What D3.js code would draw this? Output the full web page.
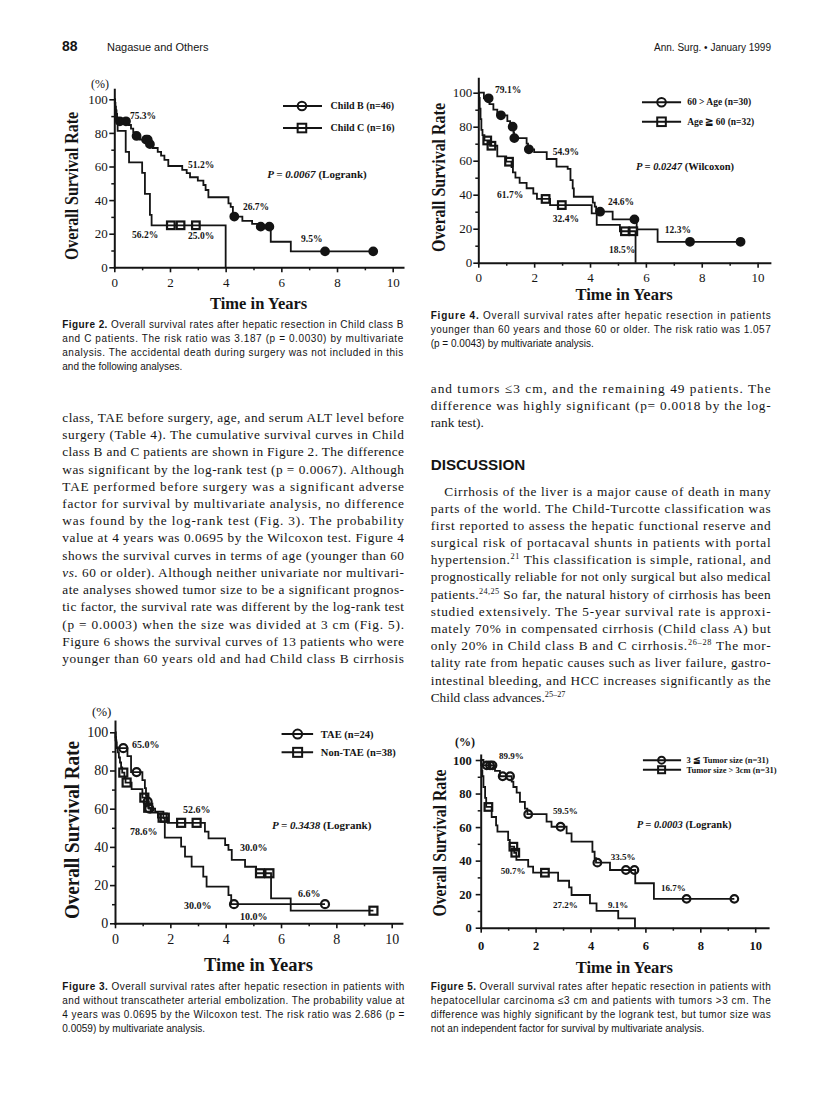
<!DOCTYPE html>
<html>
<head>
<meta charset="utf-8">
<script src="https://cdn.jsdelivr.net/npm/d3@7/dist/d3.min.js"></script>
<style>
html,body{margin:0;padding:0;background:#ffffff;}
svg{display:block;}
svg text{white-space:pre;}
</style>
</head>
<body>
<svg id="page" width="816" height="1115" viewBox="0 0 816 1115"></svg>
<script>
// ===================== DATA =====================
const majorYears = [0, 2, 4, 6, 8, 10];
const minorYears = [1, 3, 5, 7, 9];
const majorPct = [0, 20, 40, 60, 80, 100];
const minorPct = [10, 30, 50, 70, 90];

// ---- Figure 2: Child B vs Child C ----
const fig2ChildB = [[0,100],[0.02,97.8],[0.04,95.6],[0.06,93.4],[0.08,91.3],[0.1,89.1],[0.13,86.9],[0.5,84.7],[0.6,82.5],[0.68,80.3],[0.75,78.2],[0.92,76.0],[1.25,73.3],[1.38,71.0],[1.56,68.7],[1.68,66.5],[1.8,64.0],[1.94,60.3],[2.44,58.0],[2.6,56.0],[2.72,53.6],[3.0,51.6],[3.2,49.0],[3.28,46.0],[3.38,41.7],[4.1,38.0],[4.18,36.0],[4.26,30.2],[4.6,27.6],[4.95,25.8],[5.2,24.2],[5.62,15.2],[6.34,9.5],[9.3,9.5]];
const fig2ChildBCensor = [0.2,0.42,0.8,1.14,1.2,1.28,4.31,5.26,5.57,7.57,9.3];
const fig2ChildC = [[0,100],[0.03,93.75],[0.06,87.5],[0.12,81.25],[0.41,68.75],[0.53,62.5],[1.0,56.25],[1.1,43.75],[1.28,31.25],[1.34,25],[4.0,0]];
const fig2ChildCCensor = [2.03,2.38,2.93];
const fig2Labels = [[0.56,88.5,"75.3%"],[2.65,59.4,"51.2%"],[4.62,34,"26.7%"],[0.64,17.7,"56.2%"],[2.65,16.7,"25.0%"],[6.71,14.8,"9.5%"]];
const fig2Legend = ["Child B (n=46)", "Child C (n=16)"];
const fig2P = ["P = 0.0067", " (Logrank)"];

// ---- Figure 4: age ----
const fig4Young = [[0,100],[0.2,96.7],[0.4,93.3],[0.54,90],[0.68,86.7],[1.04,83.3],[1.14,80],[1.26,76.7],[1.28,73.3],[1.73,70],[1.78,66.7],[2.0,65],[2.45,61],[2.8,56.5],[3.2,55.2],[3.3,48.6],[3.38,43.7],[3.42,38.8],[4.1,35.3],[4.17,33],[4.22,30],[4.81,25.5],[5.67,19.6],[6.42,12.3],[9.39,12.3]];
const fig4YoungCensor = [0.37,0.81,1.23,1.29,1.81,4.36,5.59,7.58,9.39];
const fig4Old = [[0,100],[0.03,96.9],[0.05,90.6],[0.08,84.4],[0.11,78.1],[0.15,75],[0.22,71.9],[0.42,68.8],[0.68,62.5],[1.0,59.4],[1.19,56.3],[1.24,53.1],[1.33,50],[1.48,46.9],[1.73,43.8],[1.97,40.6],[2.1,37.5],[2.57,33.9],[4.06,29],[4.24,22.2],[5.07,18.5],[5.63,0]];
const fig4OldCensor = [0.32,0.47,1.1,2.41,2.99,5.25,5.55];
const fig4Labels = [[0.6,100.1,"79.1%"],[2.67,63.2,"54.9%"],[0.67,37.8,"61.7%"],[2.67,24.2,"32.4%"],[4.64,33.8,"24.6%"],[6.68,17.2,"12.3%"],[4.68,6,"18.5%"]];
const fig4Legend = ["60 > Age (n=30)", "Age \u2267 60 (n=32)"];
const fig4P = ["P = 0.0247", " (Wilcoxon)"];

// ---- Figure 3: TAE ----
const fig3TAE = [[0,100],[0.02,95.8],[0.05,91.7],[0.45,87.5],[0.58,79.2],[0.99,75],[1.08,70.8],[1.12,66.7],[1.16,63.7],[1.22,60],[1.45,58.5],[1.75,55],[1.8,44.9],[2.39,40.1],[2.53,34.9],[2.77,29.7],[3.19,24.4],[3.31,19.2],[4.1,14.8],[4.2,10],[7.59,10]];
const fig3TAECensor = [0.3,0.78,1.18,1.24,4.3,7.59];
const fig3NonTAE = [[0,100],[0.02,97.4],[0.04,94.7],[0.06,92.1],[0.1,89.5],[0.14,86.8],[0.18,84.2],[0.22,81.6],[0.26,78.9],[0.34,76.3],[0.38,73.7],[0.6,70.3],[0.99,65.8],[1.14,63],[1.2,60.5],[1.29,57.9],[1.55,55.3],[1.9,52.6],[3.25,48],[3.38,44.5],[3.98,41],[4.1,38.4],[4.22,33.2],[4.7,29.6],[5.1,26.2],[5.64,13.1],[6.35,6.6],[9.34,6.6]];
const fig3NonTAECensor = [0.3,0.42,1.06,1.2,1.72,1.8,2.39,2.95,5.24,5.58,9.34];
const fig3Labels = [[0.61,92,"65.0%"],[2.46,57.5,"52.6%"],[0.54,46,"78.6%"],[4.52,37.7,"30.0%"],[2.49,7.7,"30.0%"],[4.52,1.6,"10.0%"],[6.61,14,"6.6%"]];
const fig3Legend = ["TAE (n=24)", "Non-TAE (n=38)"];
const fig3P = ["P = 0.3438", " (Logrank)"];

// ---- Figure 5: tumor size ----
const fig5Small = [[0,100],[0.1,96.8],[0.52,93.5],[0.7,90.3],[1.13,87.1],[1.19,83.9],[1.31,80.6],[1.43,75],[1.61,71],[1.7,67.7],[2.4,63.2],[2.58,60.2],[3.13,56.3],[3.31,51.3],[4.07,45.3],[4.15,41.4],[4.2,38.8],[4.71,34.4],[5.63,26.5],[6.31,17.2],[9.24,17.2]];
const fig5SmallCensor = [0.22,0.34,0.43,0.8,1.07,1.73,2.91,4.25,5.29,5.6,7.5,9.24];
const fig5Large = [[0,100],[0.02,96.8],[0.04,93.5],[0.06,90.3],[0.1,83.9],[0.16,77.4],[0.2,72],[0.4,66],[0.56,61],[0.61,57.3],[1.0,52.3],[1.06,48.3],[1.22,44.7],[1.3,40.4],[1.73,36.4],[1.91,32.8],[2.82,28],[3.22,24],[3.31,19.5],[3.98,14.5],[4.22,10],[5.01,5.6],[5.62,0]];
const fig5LargeCensor = [0.28,1.19,1.26,2.34];
const fig5Labels = [[0.67,100.5,"89.9%"],[2.63,67.7,"59.5%"],[0.73,32.3,"50.7%"],[2.63,11.9,"27.2%"],[4.74,40.3,"33.5%"],[6.57,22,"16.7%"],[4.64,11.9,"9.1%"]];
const fig5Legend = ["3 \u2266 Tumor size (n=31)", "Tumor size > 3cm (n=31)"];
const fig5P = ["P = 0.0003", " (Logrank)"];

// ---- Page text ----
const headerTexts = ["88", "Nagasue and Others", "Ann. Surg. \u2022 January 1999"];
const cap2 = [[["Figure 2.","b"]," Overall survival rates after hepatic resection in Child class B"],["and C patients. The risk ratio was 3.187 (p = 0.0030) by multivariate"],["analysis. The accidental death during surgery was not included in this"],["and the following analyses."]];
const cap4 = [[["Figure 4.","b"]," Overall survival rates after hepatic resection in patients"],["younger than 60 years and those 60 or older. The risk ratio was 1.057"],["(p = 0.0043) by multivariate analysis."]];
const cap3 = [[["Figure 3.","b"]," Overall survival rates after hepatic resection in patients with"],["and without transcatheter arterial embolization. The probability value at"],["4 years was 0.0695 by the Wilcoxon test. The risk ratio was 2.686 (p ="],["0.0059) by multivariate analysis."]];
const cap5 = [[["Figure 5.","b"]," Overall survival rates after hepatic resection in patients with"],["hepatocellular carcinoma \u22643 cm and patients with tumors >3 cm. The"],["difference was highly significant by the logrank test, but tumor size was"],["not an independent factor for survival by multivariate analysis."]];
const bodyLeft = [
 ["class, TAE before surgery, age, and serum ALT level before"],
 ["surgery (Table 4). The cumulative survival curves in Child"],
 ["class B and C patients are shown in Figure 2. The difference"],
 ["was significant by the log-rank test (p = 0.0067). Although"],
 ["TAE performed before surgery was a significant adverse"],
 ["factor for survival by multivariate analysis, no difference"],
 ["was found by the log-rank test (Fig. 3). The probability"],
 ["value at 4 years was 0.0695 by the Wilcoxon test. Figure 4"],
 ["shows the survival curves in terms of age (younger than 60"],
 [["vs.","i"]," 60 or older). Although neither univariate nor multivari-"],
 ["ate analyses showed tumor size to be a significant prognos-"],
 ["tic factor, the survival rate was different by the log-rank test"],
 ["(p = 0.0003) when the size was divided at 3 cm (Fig. 5)."],
 ["Figure 6 shows the survival curves of 13 patients who were"],
 ["younger than 60 years old and had Child class B cirrhosis"]
];
const bodyRightTop = [
 ["and tumors \u22643 cm, and the remaining 49 patients. The"],
 ["difference was highly significant (p= 0.0018 by the log-"],
 ["rank test)."]
];
const headingText = "DISCUSSION";
const bodyRightMain = [
 ["Cirrhosis of the liver is a major cause of death in many"],
 ["parts of the world. The Child-Turcotte classification was"],
 ["first reported to assess the hepatic functional reserve and"],
 ["surgical risk of portacaval shunts in patients with portal"],
 ["hypertension.",["21","s"]," This classification is simple, rational, and"],
 ["prognostically reliable for not only surgical but also medical"],
 ["patients.",["24,25","s"]," So far, the natural history of cirrhosis has been"],
 ["studied extensively. The 5-year survival rate is approxi-"],
 ["mately 70% in compensated cirrhosis (Child class A) but"],
 ["only 20% in Child class B and C cirrhosis.",["26\u201328","s"]," The mor-"],
 ["tality rate from hepatic causes such as liver failure, gastro-"],
 ["intestinal bleeding, and HCC increases significantly as the"],
 ["Child class advances.",["25\u201327","s"]]
];

// ===================== RENDER =====================
const svg = d3.select('#page');
const SERIF = "'Liberation Serif','Times New Roman',Times,serif";
const SANS = "'Liberation Sans',Arial,Helvetica,sans-serif";
const INK = '#141414';

svg.append('rect').attr('width', 816).attr('height', 1115).attr('fill', '#fff');

function stepAt(series, t) {
  let v = series[0][1];
  for (const d of series) { if (d[0] <= t) v = d[1]; }
  return v;
}

function drawMarker(g, type, cx, cy, r, fill, sw) {
  if (type === 'circle') {
    g.append('circle').attr('cx', cx).attr('cy', cy).attr('r', r)
      .attr('fill', fill).attr('stroke', INK).attr('stroke-width', sw);
  } else {
    g.append('rect').attr('x', cx - r).attr('y', cy - r).attr('width', 2 * r).attr('height', 2 * r)
      .attr('fill', fill).attr('stroke', INK).attr('stroke-width', sw);
  }
}

function drawKM(c) {
  const g = svg.append('g');
  const x = d3.scaleLinear().domain([0, c.xMax]).range([c.left, c.left + c.xMax * c.xPer]);
  const y = d3.scaleLinear().domain([0, c.yMax]).range([c.bottom, c.bottom - c.yMax * c.yPer]);
  const fw = c.tickBold ? 'bold' : 'normal';

  g.append('g').attr('transform', `translate(0,${c.bottom})`)
    .call(d3.axisBottom(x).tickValues(minorYears).tickSize(3).tickFormat(''))
    .call(a => a.select('.domain').remove())
    .call(a => a.selectAll('line').attr('stroke', INK).attr('stroke-width', 1.5));
  g.append('g').attr('transform', `translate(${c.left},0)`)
    .call(d3.axisLeft(y).tickValues(minorPct).tickSize(3).tickFormat(''))
    .call(a => a.select('.domain').remove())
    .call(a => a.selectAll('line').attr('stroke', INK).attr('stroke-width', 1.5));

  const ax = g.append('g').attr('transform', `translate(0,${c.bottom})`)
    .call(d3.axisBottom(x).tickValues(majorYears).tickSize(5).tickSizeOuter(0).tickPadding(c.padX));
  const ay = g.append('g').attr('transform', `translate(${c.left},0)`)
    .call(d3.axisLeft(y).tickValues(majorPct).tickSize(5).tickSizeOuter(0).tickPadding(c.padY));
  [ax, ay].forEach(a => {
    a.attr('font-family', SERIF).attr('font-size', c.tickFont).attr('font-weight', fw);
    a.select('.domain').attr('stroke', INK).attr('stroke-width', 2).attr('stroke-linecap', 'square');
    a.selectAll('.tick line').attr('stroke', INK).attr('stroke-width', 1.6);
    a.selectAll('.tick text').attr('fill', INK);
  });

  const line = d3.line().x(d => x(d[0])).y(d => y(d[1])).curve(d3.curveStepAfter);
  c.series.forEach(s => {
    g.append('path').datum(s.data).attr('d', line)
      .attr('fill', 'none').attr('stroke', INK).attr('stroke-width', 1.8);
  });
  c.series.forEach(s => {
    s.censor.forEach(t => drawMarker(g, s.mark, x(t), y(stepAt(s.data, t)), c.markR, s.fill, c.markSW));
  });

  c.labels.forEach(l => {
    g.append('text').attr('x', x(l[0])).attr('y', y(l[1]))
      .attr('font-family', SERIF).attr('font-weight', 'bold').attr('font-size', c.labelFont)
      .attr('fill', INK).text(l[2]);
  });

  const L = c.legend;
  L.names.forEach((name, i) => {
    const ry = y(L.rows[i]);
    g.append('line').attr('x1', x(L.x1)).attr('x2', x(L.x2)).attr('y1', ry).attr('y2', ry)
      .attr('stroke', INK).attr('stroke-width', 2);
    drawMarker(g, c.series[i].mark, x(L.xm), ry, L.r, 'none', 2);
    g.append('text').attr('x', x(L.xt)).attr('y', ry + L.size * 0.34)
      .attr('font-family', SERIF).attr('font-weight', 'bold').attr('font-size', L.size)
      .attr('fill', INK).text(name);
  });

  const pt = g.append('text').attr('x', x(c.p.t)).attr('y', y(c.p.s)).attr('text-anchor', 'middle')
    .attr('font-family', SERIF).attr('font-weight', 'bold').attr('font-size', c.p.size).attr('fill', INK);
  pt.append('tspan').attr('font-style', 'italic').text(c.p.text[0]);
  pt.append('tspan').text(c.p.text[1]);

  if (c.pct) {
    g.append('text').attr('x', x(c.pct.t)).attr('y', y(c.pct.s)).attr('text-anchor', 'middle')
      .attr('font-family', SERIF).attr('font-size', c.pct.size).attr('font-weight', c.pct.bold ? 'bold' : 'normal')
      .attr('fill', INK).text('(%)');
  }

  g.append('text')
    .attr('transform', `translate(${c.left - c.yTitle.off},${y(c.yTitle.at)}) rotate(-90)`)
    .attr('text-anchor', 'middle').attr('font-family', SERIF).attr('font-weight', 'bold')
    .attr('font-size', c.yTitle.size).attr('textLength', c.yTitle.len).attr('lengthAdjust', 'spacingAndGlyphs')
    .attr('fill', INK).text('Overall Survival Rate');
  g.append('text')
    .attr('x', (x(0) + x(c.xMax)) / 2).attr('y', c.bottom + c.xTitle.off)
    .attr('text-anchor', 'middle').attr('font-family', SERIF).attr('font-weight', 'bold')
    .attr('font-size', c.xTitle.size).attr('fill', INK).text('Time in Years');
}

drawKM({
  left: 114.3, xPer: 27.84, bottom: 267.3, yPer: 1.68, xMax: 10.37, yMax: 106,
  tickFont: 13, tickBold: false, padX: 5, padY: 1.5,
  series: [{data: fig2ChildB, censor: fig2ChildBCensor, mark: 'circle', fill: INK},
           {data: fig2ChildC, censor: fig2ChildCCensor, mark: 'square', fill: 'none'}],
  markR: 3.8, markSW: 2.2, labels: fig2Labels, labelFont: 9.5,
  legend: {names: fig2Legend, rows: [96, 82.9], x1: 6.06, x2: 7.46, xm: 6.74, xt: 7.77, r: 4.3, size: 10},
  p: {text: fig2P, t: 7.28, s: 53.3, size: 11},
  pct: {t: -0.51, s: 106.7, size: 12},
  yTitle: {off: 36, at: 48.4, size: 18, len: 148},
  xTitle: {off: 42, size: 16.5}
});

drawKM({
  left: 478.3, xPer: 27.93, bottom: 262.7, yPer: 1.7, xMax: 10.44, yMax: 108.5,
  tickFont: 13, tickBold: false, padX: 5, padY: 1,
  series: [{data: fig4Young, censor: fig4YoungCensor, mark: 'circle', fill: INK},
           {data: fig4Old, censor: fig4OldCensor, mark: 'square', fill: 'none'}],
  markR: 3.8, markSW: 2.2, labels: fig4Labels, labelFont: 9.5,
  legend: {names: fig4Legend, rows: [94.4, 82.9], x1: 5.86, x2: 7.26, xm: 6.56, xt: 7.48, r: 4.3, size: 9.5},
  p: {text: fig4P, t: 7.4, s: 54.4, size: 10.5},
  pct: null,
  yTitle: {off: 33, at: 50.1, size: 18, len: 149},
  xTitle: {off: 37, size: 16.5}
});

drawKM({
  left: 115, xPer: 27.67, bottom: 923.3, yPer: 1.91, xMax: 10.37, yMax: 105.9,
  tickFont: 14, tickBold: false, padX: 6, padY: 1.7,
  series: [{data: fig3TAE, censor: fig3TAECensor, mark: 'circle', fill: 'none'},
           {data: fig3NonTAE, censor: fig3NonTAECensor, mark: 'square', fill: 'none'}],
  markR: 4, markSW: 2.2, labels: fig3Labels, labelFont: 10,
  legend: {names: fig3Legend, rows: [99.1, 89.5], x1: 6.02, x2: 7.16, xm: 6.6, xt: 7.44, r: 4.5, size: 10.5},
  p: {text: fig3P, t: 7.47, s: 49.3, size: 11},
  pct: {t: -0.48, s: 108.5, size: 13},
  yTitle: {off: 36.5, at: 48.8, size: 20, len: 178},
  xTitle: {off: 48, size: 18.5}
});

drawKM({
  left: 480.7, xPer: 27.45, bottom: 927.7, yPer: 1.677, xMax: 10.47, yMax: 103,
  tickFont: 12.5, tickBold: true, padX: 8, padY: 4,
  series: [{data: fig5Small, censor: fig5SmallCensor, mark: 'circle', fill: 'none'},
           {data: fig5Large, censor: fig5LargeCensor, mark: 'square', fill: 'none'}],
  markR: 3.8, markSW: 2.2, labels: fig5Labels, labelFont: 9,
  legend: {names: fig5Legend, rows: [99.9, 94.2], x1: 5.91, x2: 7.3, xm: 6.59, xt: 7.5, r: 3.5, size: 8.5},
  p: {text: fig5P, t: 7.41, s: 59.6, size: 10.5},
  pct: {t: -0.57, s: 108.3, size: 12, bold: true},
  yTitle: {off: 35, at: 50.5, size: 18, len: 147},
  xTitle: {off: 45, size: 16.5}
});

function textLine(x, y, parts, o) {
  const t = svg.append('text').attr('x', x).attr('y', y)
    .attr('font-family', o.family).attr('font-size', o.size).attr('fill', INK);
  if (o.weight) t.attr('font-weight', o.weight);
  if (o.anchor) t.attr('text-anchor', o.anchor);
  let pendingDown = 0;
  parts.forEach(p => {
    const str = typeof p === 'string' ? p : p[0];
    const st = typeof p === 'string' ? '' : p[1];
    const ts = t.append('tspan').text(str);
    if (pendingDown) { ts.attr('dy', pendingDown); pendingDown = 0; }
    if (st === 'b') ts.attr('font-weight', 'bold');
    if (st === 'i') ts.attr('font-style', 'italic');
    if (st === 's') {
      const up = o.size * 0.38;
      ts.attr('dy', -up).attr('font-size', o.size * 0.62);
      pendingDown = up;
    }
  });
  if (o.width) {
    const nat = t.node().getComputedTextLength();
    t.attr('textLength', o.width).attr('lengthAdjust', nat > o.width ? 'spacingAndGlyphs' : 'spacing');
  }
  return t;
}

function block(lines, x, y0, lh, width, o, justifyLast) {
  lines.forEach((parts, i) => {
    const last = i === lines.length - 1;
    textLine(x, y0 + i * lh, parts, Object.assign({}, o, {width: (!last || justifyLast) ? width : null}));
  });
}

textLine(62, 51, [headerTexts[0]], {family: SANS, size: 14, weight: 'bold'});
textLine(107, 51, [headerTexts[1]], {family: SANS, size: 11});
textLine(771, 51, [headerTexts[2]], {family: SANS, size: 10, anchor: 'end'});

const capFont = {family: SANS, size: 10};
block(cap2, 62.3, 327.5, 14.25, 341, capFont, false);
block(cap4, 430.7, 318.5, 14.2, 340, capFont, false);
block(cap3, 62.3, 989.5, 14.3, 342, capFont, false);
block(cap5, 430.7, 989.5, 14.3, 340, capFont, false);

const bodyFont = {family: SERIF, size: 13.3};
block(bodyLeft, 62.3, 421.8, 17.24, 341.7, bodyFont, true);
block(bodyRightTop, 430.7, 392.8, 17.2, 340, bodyFont, false);
textLine(430.7, 469.8, [headingText], {family: SANS, size: 15.2, weight: 'bold'});
bodyRightMain.forEach((parts, i) => {
  const last = i === bodyRightMain.length - 1;
  const xx = i === 0 ? 444.3 : 430.7;
  const w = i === 0 ? 326.4 : 340;
  textLine(xx, 495.5 + i * 17.19, parts, Object.assign({}, bodyFont, {width: last ? null : w}));
});
</script>
</body>
</html>
